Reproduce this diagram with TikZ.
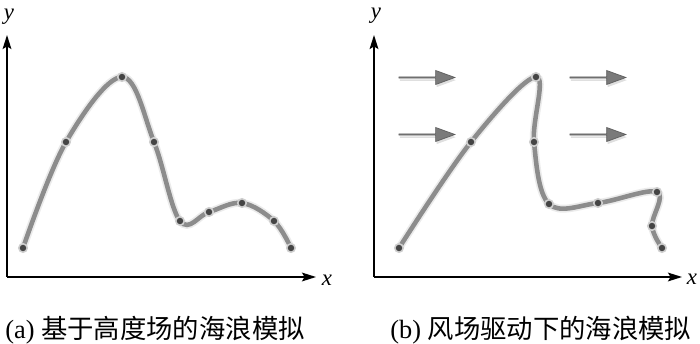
\documentclass[tikz,border=0pt]{standalone}
\usepackage{fontspec}
\setmainfont{Liberation Serif}
\newfontfamily\cjk{Noto Sans CJK SC}
\usetikzlibrary{arrows.meta, shapes.arrows, shadows}
\definecolor{wavegray}{HTML}{8C8C8C}
\definecolor{dotgray}{HTML}{454545}
\definecolor{halogray}{HTML}{CFCFCF}
\definecolor{windgray}{HTML}{7A7A7A}
\definecolor{windedge}{HTML}{5C5C5C}

\begin{document}
\begin{tikzpicture}[x=0.02cm, y=-0.02cm,
  axis/.style={line width=0.9pt, -{Stealth[length=8pt, width=5pt, inset=1.5pt]}},
  axlabel/.style={font=\fontsize{13pt}{15pt}\selectfont\itshape, inner sep=0pt},
  wave/.style={draw=wavegray, line width=2.6pt, line cap=round,
               preaction={draw=black, opacity=0.08, line width=4.5pt}},
  dot/.style={circle, fill=dotgray, draw=halogray, line width=0.9pt,
              minimum size=4.8pt, inner sep=0pt},
  wind/.style={single arrow, fill=windgray, draw=windedge, line width=0.4pt,
               minimum height=1.12cm, minimum width=0.28cm,
               single arrow head extend=0.07cm, single arrow tip angle=40,
               inner sep=0pt, drop shadow={opacity=0.25, shadow xshift=0.5pt, shadow yshift=-1.5pt}},
  caption/.style={font=\fontsize{15pt}{18pt}\selectfont, inner sep=0pt, anchor=base west}]
  \useasboundingbox (0,0) rectangle (700,344);
  % (a) height field
  \coordinate (oa) at (7,277);
  \draw[axis] (oa) -- (7,35) node[coordinate] (ya) {};
  \draw[axis] (oa) -- (316,277) node[coordinate] (xa) {};
  \node[axlabel] (yla) at (9,17) {y};
  \node[axlabel] (xla) at (327,280) {x};
  \coordinate (a1) at (23,248);
  \coordinate (a2) at (66,142);
  \coordinate (a3) at (122,77);
  \coordinate (a4) at (154,142);
  \coordinate (a5) at (180,221);
  \coordinate (a6) at (209,212);
  \coordinate (a7) at (242,203);
  \coordinate (a8) at (274,221);
  \coordinate (a9) at (291,248);
  \draw[wave] plot[smooth, tension=0.6] coordinates {(a1) (a2) (a3) (a4) (a5) (a6) (a7) (a8) (a9)};
  \foreach \p in {a1,a2,a3,a4,a5,a6,a7,a8,a9}
    \node[dot] (\p-dot) at (\p) {};
  % (b) wind driven
  \coordinate (ob) at (374,277);
  \draw[axis] (ob) -- (374,35) node[coordinate] (yb) {};
  \draw[axis] (ob) -- (682,277) node[coordinate] (xb) {};
  \node[axlabel] (ylb) at (376,16) {y};
  \node[axlabel] (xlb) at (692,279) {x};
  \node[wind] (w1) at (426,77.5) {};
  \node[wind] (w2) at (426,134.5) {};
  \node[wind] (w3) at (597,77.5) {};
  \node[wind] (w4) at (597,134.5) {};
  \coordinate (b1) at (399,248);
  \coordinate (b2) at (471,142);
  \coordinate (b3) at (536,77);
  \coordinate (b4) at (534,142);
  \coordinate (b5) at (549,204);
  \coordinate (b6) at (598,203);
  \coordinate (b7) at (657,192);
  \coordinate (b8) at (652,226);
  \coordinate (b9) at (662,248);
  \draw[wave] plot[smooth, tension=0.6] coordinates {(b1) (b2) (b3) (b4) (b5) (b6) (b7) (b8) (b9)};
  \foreach \p in {b1,b2,b3,b4,b5,b6,b7,b8,b9}
    \node[dot] (\p-dot) at (\p) {};
  % captions
  \node[caption] (capa) at (5,338) {(a) {\cjk 基于高度场的海浪模拟}};
  \node[caption] (capb) at (390,338) {(b) {\cjk 风场驱动下的海浪模拟}};
\end{tikzpicture}
\end{document}
